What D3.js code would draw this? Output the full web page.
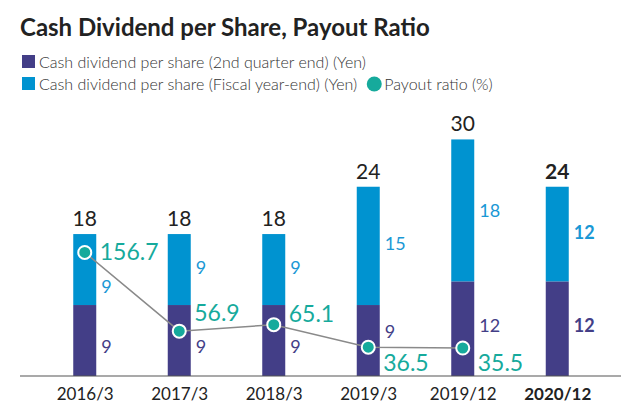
<!DOCTYPE html>
<meta charset="utf-8">
<script src="https://d3js.org/d3.v7.min.js"></script>
<style>
body { margin: 0; background: #fff; font-family: Lato, "Open Sans", sans-serif; }
</style>
<body>
<script>
  // data
  var periods = ["2016/3", "2017/3", "2018/3", "2019/3", "2019/12", "2020/12"];
  var secondQuarter = [9, 9, 9, 9, 12, 12];
  var fiscalYearEnd = [9, 9, 9, 15, 18, 12];
  var payoutRatio = [156.7, 56.9, 65.1, 36.5, 35.5, null];

  // layout nudges for labels (px)
  var lowerNudge = [6, 6, 6, -8.5, -3, -3],
      upperNudge = [17, -1.5, -1.5, -2.5, 0, -1.5],
      ratioNudge = [0, -17.7, -11, 16, 15];

  var width = 621, height = 405,
      baseY = 376, topY = 100,
      barW = 23;

  var colors = {q2: "#433e87", fy: "#0093d0", ratio: "#16aa9c"};

  var svg = d3.select("body").append("svg")
    .attr("width", width)
    .attr("height", height);

  var x = d3.scalePoint().domain(periods).range([37.5, 604.5]).padding(0.5);
  var y = d3.scaleLinear().domain([0, 35]).range([baseY, topY]);
  var yr = d3.scaleLinear().domain([0, 350]).range([baseY, topY]);

  var rows = periods.map(function(p, i) {
    return {p: p, i: i, q2: secondQuarter[i], fy: fiscalYearEnd[i], total: secondQuarter[i] + fiscalYearEnd[i], r: payoutRatio[i]};
  });
  var last = periods.length - 1;

  // title
  svg.append("text")
    .attr("x", 20).attr("y", 36)
    .attr("font-size", "24px").attr("font-weight", 700)
    .attr("fill", "#222")
    .text("Cash Dividend per Share, Payout Ratio");

  // legend
  var lg = svg.append("g").attr("font-size", "16px").attr("font-weight", 300).attr("fill", "#333");
  lg.append("rect").attr("x", 22).attr("y", 55).attr("width", 13).attr("height", 13).attr("fill", colors.q2);
  lg.append("text").attr("x", 39).attr("y", 68).text("Cash dividend per share (2nd quarter end) (Yen)");
  lg.append("rect").attr("x", 22).attr("y", 77).attr("width", 13).attr("height", 13).attr("fill", colors.fy);
  var l2 = lg.append("text").attr("x", 39).attr("y", 90).text("Cash dividend per share (Fiscal year-end) (Yen)");
  var l2end = 39 + l2.node().getComputedTextLength();
  lg.append("circle").attr("cx", l2end + 17).attr("cy", 84).attr("r", 7.5).attr("fill", colors.ratio);
  lg.append("text").attr("x", l2end + 27).attr("y", 90).text("Payout ratio (%)");

  // bars
  var bars = svg.append("g");
  bars.selectAll(".q2").data(rows).enter().append("rect")
    .attr("x", function(d) { return x(d.p) - barW / 2; })
    .attr("width", barW)
    .attr("y", function(d) { return y(d.q2); })
    .attr("height", function(d) { return y(0) - y(d.q2); })
    .attr("fill", colors.q2);
  bars.selectAll(".fy").data(rows).enter().append("rect")
    .attr("x", function(d) { return x(d.p) - barW / 2; })
    .attr("width", barW)
    .attr("y", function(d) { return y(d.total); })
    .attr("height", function(d) { return y(d.q2) - y(d.total); })
    .attr("fill", colors.fy);

  // axis
  var xAxis = svg.append("g")
    .attr("transform", "translate(0," + baseY + ")")
    .call(d3.axisBottom(x).tickSize(0).tickPadding(8));
  xAxis.select(".domain").attr("d", "M20,0H621").attr("stroke", "#555").attr("stroke-width", 1.2);
  xAxis.selectAll("text")
    .attr("font-family", "Lato, sans-serif")
    .attr("font-size", "17px")
    .attr("fill", "#222")
    .attr("dy", "0.95em")
    .attr("font-weight", function(d, i) { return i == last ? 700 : 400; });

  // segment labels
  var labels = svg.append("g");
  labels.selectAll(".lq2").data(rows).enter().append("text")
    .attr("x", function(d) { return x(d.p) + barW / 2 + 5; })
    .attr("y", function(d) { return (y(0) + y(d.q2)) / 2 + lowerNudge[d.i]; })
    .attr("dy", "0.35em")
    .attr("font-size", "18px")
    .attr("font-weight", function(d) { return d.i == last ? 700 : 400; })
    .attr("fill", colors.q2)
    .text(function(d) { return d.q2; });
  labels.selectAll(".lfy").data(rows).enter().append("text")
    .attr("x", function(d) { return x(d.p) + barW / 2 + 5; })
    .attr("y", function(d) { return (y(d.q2) + y(d.total)) / 2 + upperNudge[d.i]; })
    .attr("dy", "0.35em")
    .attr("font-size", "18px")
    .attr("font-weight", function(d) { return d.i == last ? 700 : 400; })
    .attr("fill", "#1a98d5")
    .text(function(d) { return d.fy; });
  labels.selectAll(".ltot").data(rows).enter().append("text")
    .attr("x", function(d) { return x(d.p); })
    .attr("y", function(d) { return y(d.total) - 8; })
    .attr("text-anchor", "middle")
    .attr("font-size", "21px")
    .attr("font-weight", function(d) { return d.i == last ? 700 : 400; })
    .attr("fill", "#222")
    .text(function(d) { return d.total; });

  // payout ratio line
  var pts = rows.filter(function(d) { return d.r != null; });
  svg.append("path")
    .datum(pts)
    .attr("fill", "none")
    .attr("stroke", "#8a8a8a")
    .attr("stroke-width", 1.5)
    .attr("d", d3.line().x(function(d) { return x(d.p); }).y(function(d) { return yr(d.r); }));
  svg.selectAll(".pt").data(pts).enter().append("circle")
    .attr("cx", function(d) { return x(d.p); })
    .attr("cy", function(d) { return yr(d.r); })
    .attr("r", 6.5)
    .attr("fill", colors.ratio)
    .attr("stroke", "#fff")
    .attr("stroke-width", 2);
  svg.selectAll(".rl").data(pts).enter().append("text")
    .attr("x", function(d) { return x(d.p) + 15; })
    .attr("y", function(d) { return yr(d.r) + ratioNudge[d.i]; })
    .attr("dy", "0.35em")
    .attr("font-size", "23px")
    .attr("fill", colors.ratio)
    .text(function(d) { return d3.format(".1f")(d.r); });
</script>
</body>
